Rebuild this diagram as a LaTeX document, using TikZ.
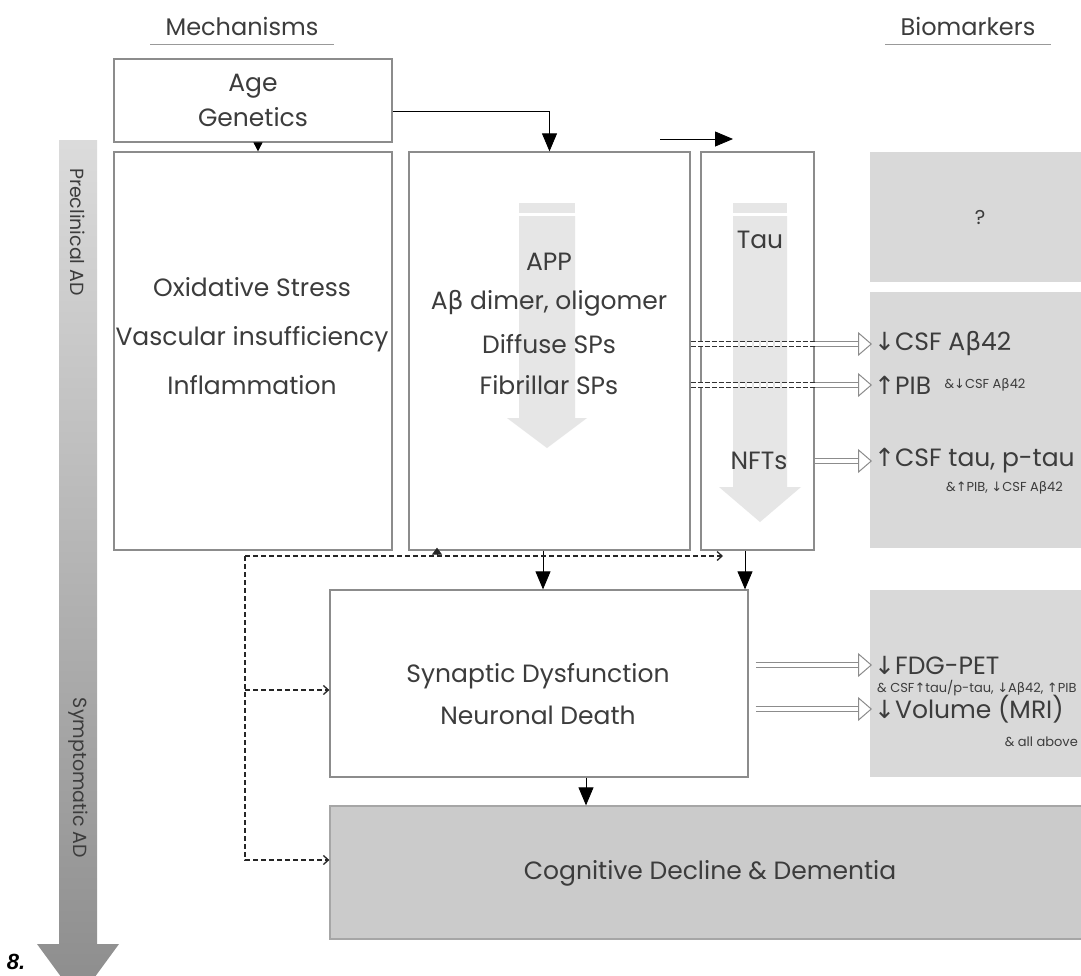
\documentclass[tikz,border=0pt]{standalone}
\usepackage{fontspec}
\setmainfont{Poppins}
\newfontfamily\dvsans{DejaVu Sans}
\newfontfamily\figfont{Liberation Sans}
\usetikzlibrary{arrows.meta,positioning,calc}

\definecolor{txt}{HTML}{3C3C3C}
\definecolor{boxline}{HTML}{8C8C8C}
\definecolor{markfill}{HTML}{D9D9D9}
\definecolor{cogfill}{HTML}{CBCBCB}
\definecolor{flowfill}{HTML}{E6E6E6}

\newcommand{\arrdn}{{\dvsans ↓}}
\newcommand{\arrup}{{\dvsans ↑}}
\newcommand{\abeta}{A{\dvsans β}}

\begin{document}
\begin{tikzpicture}[
	x=1pt, y=-1pt, % one unit per pixel, y runs downwards
	every node/.style={text=txt},
	lbl/.style={font=\fontsize{25}{29}\selectfont},
	head/.style={font=\fontsize{24}{28}\selectfont},
	stage/.style={rotate=-90, font=\fontsize{19}{22}\selectfont},
	bmark/.style={font=\fontsize{25}{29}\selectfont, anchor=west, inner sep=2pt},
	note/.style={font=\fontsize{13}{15}\selectfont, inner sep=1pt},
	wbox/.style={draw=boxline, line width=1.3pt, fill=white, inner sep=0pt},
	gbox/.style={fill=markfill, inner sep=0pt},
	rule/.style={draw=black!40, line width=0.8pt},
	conn/.style={-{Triangle[length=18pt,width=15pt]}, line width=0.8pt},
	fback/.style={dashed, dash pattern=on 5pt off 3pt, line width=1.3pt, draw=black!85,
		-{Straight Barb[length=5pt,width=9pt]}},
	dblfeed/.style={draw=black!80, double=white, double distance=3.5pt, line width=1pt,
		dash pattern=on 5pt off 2pt},
	hollow/.style={draw=boxline, double=white, double distance=4.5pt, line width=1pt,
		-{Triangle[length=14pt,width=24pt,fill=white]}}
]
\path[use as bounding box, fill=white] (0,0) rectangle (1081,975);
\clip (0,0) rectangle (1081,975);

% stage arrow on the left
\shade[top color=black!14, bottom color=black!45]
	(59,140) -- (97,140) -- (97,944) -- (119,944) -- (78,1000) -- (37,944) -- (59,944) -- cycle;
\node[stage] (precl) at (78,232) {Preclinical AD};
\node[stage] (sympt) at (78,778) {Symptomatic AD};

% column heads
\node[head] (mech) at (242,26) {Mechanisms};
\node[head] (biom) at (968,26) {Biomarkers};
\draw[rule] ([xshift=-12pt,yshift=-6pt]mech.south west) -- ([xshift=12pt,yshift=-6pt]mech.south east);
\draw[rule] ([xshift=-12pt,yshift=-6pt]biom.south west) -- ([xshift=12pt,yshift=-6pt]biom.south east);

% boxes
\node[wbox, minimum width=278pt, minimum height=83pt, align=center,
	font=\fontsize{25}{35}\selectfont] (age) at (253,100.5) {Age\\Genetics};
\node[wbox, minimum width=278pt, minimum height=398pt] (ox) at (253,351) {};
\node[wbox, minimum width=281pt, minimum height=398pt] (app) at (549.5,351) {};
\node[wbox, minimum width=113pt, minimum height=398pt] (tau) at (757.5,351) {};
\node[wbox, minimum width=418pt, minimum height=187pt] (syn) at (539,683.5) {};
\node[wbox, draw=black!35, fill=cogfill, minimum width=770pt, minimum height=133pt] (cog) at (715,872.5) {};
\node[gbox, minimum width=220pt, minimum height=130pt, font=\fontsize{20}{22}\selectfont] (qbox) at (980,217) {?};
\node[gbox, minimum width=220pt, minimum height=256pt] (csfbox) at (980,420) {};
\node[gbox, minimum width=220pt, minimum height=187pt] (fdgbox) at (980,683.5) {};

% light arrows inside the amyloid and tau columns
\fill[flowfill] (519,203) rectangle (575,213);
\fill[flowfill] (519,216) -- (575,216) -- (575,418) -- (587,418) -- (547,448) -- (507,418) -- (519,418) -- cycle;
\fill[flowfill] (733,203) rectangle (787,213);
\fill[flowfill] (733,216) -- (787,216) -- (787,487) -- (801,487) -- (760,522) -- (719,487) -- (733,487) -- cycle;

% texts
\node[align=center, font=\fontsize{25}{49}\selectfont] (oxtxt) at (252,336)
	{Oxidative Stress\\Vascular insufficiency\\Inflammation};
\node[lbl] (appt) at (549,262) {APP};
\node[lbl] (abd) at (549,303) {\abeta\ dimer, oligomer};
\node[lbl] (dif) at (549,344) {Diffuse SPs};
\node[lbl] (fib) at (549,385) {Fibrillar SPs};
\node[lbl] (tautxt) at (760,240) {Tau};
\node[lbl] (nft) at (759,461) {NFTs};
\node[align=center, font=\fontsize{25}{42}\selectfont] (syntxt) at (538,694)
	{Synaptic Dysfunction\\Neuronal Death};
\node[lbl] (cogtxt) at (710,873) {Cognitive Decline \& Dementia};

% biomarkers
\node[bmark] (csf) at (872,344) {\arrdn CSF \abeta42};
\node[bmark] (pib) at (872,385) {\arrup PIB};
\node[note, right=10pt of pib] (pibn) {\&\arrdn CSF \abeta42};
\node[bmark] (ptau) at (872,461) {\arrup CSF tau, p-tau};
\node[note, anchor=west] (ptaun) at (945,488) {\&\arrup PIB, \arrdn CSF \abeta42};
\node[bmark] (fdg) at (872,665) {\arrdn FDG-PET};
\node[note, anchor=west] (fdgn) at (876,688) {\& CSF\arrup tau/p-tau, \arrdn\abeta42, \arrup PIB};
\node[bmark] (vol) at (872,709) {\arrdn Volume (MRI)};
\node[note, anchor=east] (voln) at (1079,742) {\& all above};

\node[font=\figfont\bfseries\itshape\fontsize{22}{24}\selectfont, text=black] (fig) at (16,962) {8.};

% main flow
\draw[conn] ([yshift=-10.5pt]age.east) -| (app.north);
\draw[conn, -{Triangle[length=9pt,width=9pt]}] ([xshift=5pt]age.south) -- ([xshift=5pt]age.south |- ox.north);
\coordinate (tauin) at (660,139);
\coordinate (tauout) at (733,139);
\draw[conn] (tauin) -- (tauout);
\draw[conn] ([xshift=-6.5pt]app.south) -- ([xshift=-6.5pt]app.south |- syn.north);
\draw[conn] ([xshift=-12.5pt]tau.south) -- ([xshift=-12.5pt]tau.south |- syn.north);
\draw[conn] ([xshift=47pt]syn.south) -- ([xshift=47pt]syn.south |- cog.north);

% dashed feedback
\coordinate (fb) at (245,556);
\coordinate (fbend) at (723,556);
\draw[fback] (fb) -- (fbend);
\draw[fback] (fb) |- ([yshift=12.5pt]cog.west);
\draw[fback] ([yshift=-6.5pt]syn.west -| fb) -- ([yshift=-6.5pt]syn.west);
\draw[line width=1pt, draw=black!85, -{Triangle[length=7pt,width=10pt]}]
	([xshift=-112.5pt]app.south |- fb) -- ([xshift=-112.5pt,yshift=3pt]app.south);

% hollow arrows to the biomarkers
\draw[dblfeed] (app.east |- dif) -- (tau.east |- dif);
\draw[hollow] (tau.east |- dif) -- (csf.west);
\draw[dblfeed] (app.east |- fib) -- (tau.east |- fib);
\draw[hollow] (tau.east |- fib) -- (pib.west);
\draw[hollow] (tau.east |- nft) -- (ptau.west);
\draw[hollow] ($(syn.east |- fdg)+(7,0)$) -- (fdg.west);
\draw[hollow] ($(syn.east |- vol)+(7,0)$) -- (vol.west);
\end{tikzpicture}
\end{document}
